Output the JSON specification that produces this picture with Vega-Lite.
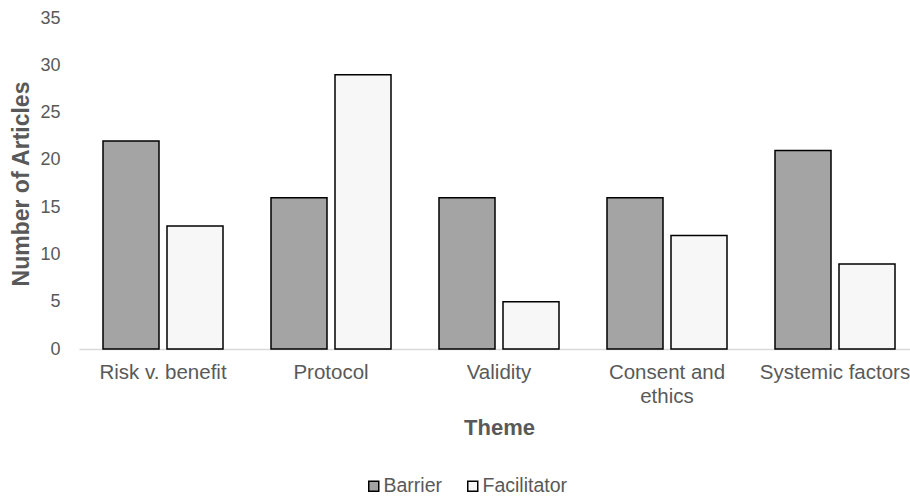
{
  "$schema": "https://vega.github.io/schema/vega-lite/v6.json",
  "autosize": {"type": "none"},
  "width": 831,
  "height": 331,
  "padding": {"left": 79, "top": 18, "right": 0, "bottom": 149},
  "background": "white",
  "data": {
    "values": [
      {"theme": "Risk v. benefit", "type": "Barrier", "count": 22},
      {"theme": "Risk v. benefit", "type": "Facilitator", "count": 13},
      {"theme": "Protocol", "type": "Barrier", "count": 16},
      {"theme": "Protocol", "type": "Facilitator", "count": 29},
      {"theme": "Validity", "type": "Barrier", "count": 16},
      {"theme": "Validity", "type": "Facilitator", "count": 5},
      {"theme": "Consent and ethics", "type": "Barrier", "count": 16},
      {"theme": "Consent and ethics", "type": "Facilitator", "count": 12},
      {"theme": "Systemic factors", "type": "Barrier", "count": 21},
      {"theme": "Systemic factors", "type": "Facilitator", "count": 9}
    ]
  },
  "mark": {"type": "bar", "stroke": "black", "strokeWidth": 1.5},
  "encoding": {
    "x": {
      "field": "theme",
      "type": "nominal",
      "sort": null,
      "title": "Theme",
      "scale": {"range": [0, 840], "paddingInner": 0, "paddingOuter": 0},
      "axis": {
        "labelAngle": 0,
        "ticks": false,
        "domainColor": "#d9d9d9",
        "domainWidth": 1.5,
        "labelPadding": 13,
        "labelFont": "Liberation Sans",
        "labelFontSize": 20.5,
        "labelColor": "#595959",
        "labelLineHeight": 24,
        "labelLimit": 300,
        "labelExpr": "datum.label == 'Consent and ethics' ? ['Consent and', 'ethics'] : datum.label",
        "titleFont": "Liberation Sans",
        "titleFontSize": 22,
        "titleFontWeight": "bold",
        "titleColor": "#595959",
        "titlePadding": 11
      }
    },
    "xOffset": {
      "field": "type",
      "type": "nominal",
      "scale": {"paddingInner": 0.125, "paddingOuter": 0.375}
    },
    "y": {
      "field": "count",
      "type": "quantitative",
      "title": "Number of Articles",
      "scale": {"domain": [0, 35], "nice": false},
      "axis": {
        "values": [0, 5, 10, 15, 20, 25, 30, 35],
        "grid": false,
        "domain": false,
        "ticks": false,
        "labelPadding": 19,
        "labelFont": "Liberation Sans",
        "labelFontSize": 18,
        "labelColor": "#595959",
        "titleFont": "Liberation Sans",
        "titleFontSize": 23,
        "titleFontWeight": "bold",
        "titleColor": "#595959",
        "titlePadding": 6
      }
    },
    "fill": {
      "field": "type",
      "type": "nominal",
      "scale": {"domain": ["Barrier", "Facilitator"], "range": ["#a4a4a4", "#f7f7f7"]},
      "legend": {
        "title": null,
        "orient": "none",
        "direction": "horizontal",
        "legendX": 285,
        "legendY": 458,
        "padding": 0,
        "symbolType": "square",
        "symbolSize": 100,
        "symbolStrokeColor": "black",
        "symbolStrokeWidth": 1.5,
        "labelFont": "Liberation Sans",
        "labelFontSize": 19.5,
        "labelColor": "#595959",
        "labelOffset": 0,
        "columnPadding": 20
      }
    }
  },
  "config": {"view": {"stroke": null}}
}
